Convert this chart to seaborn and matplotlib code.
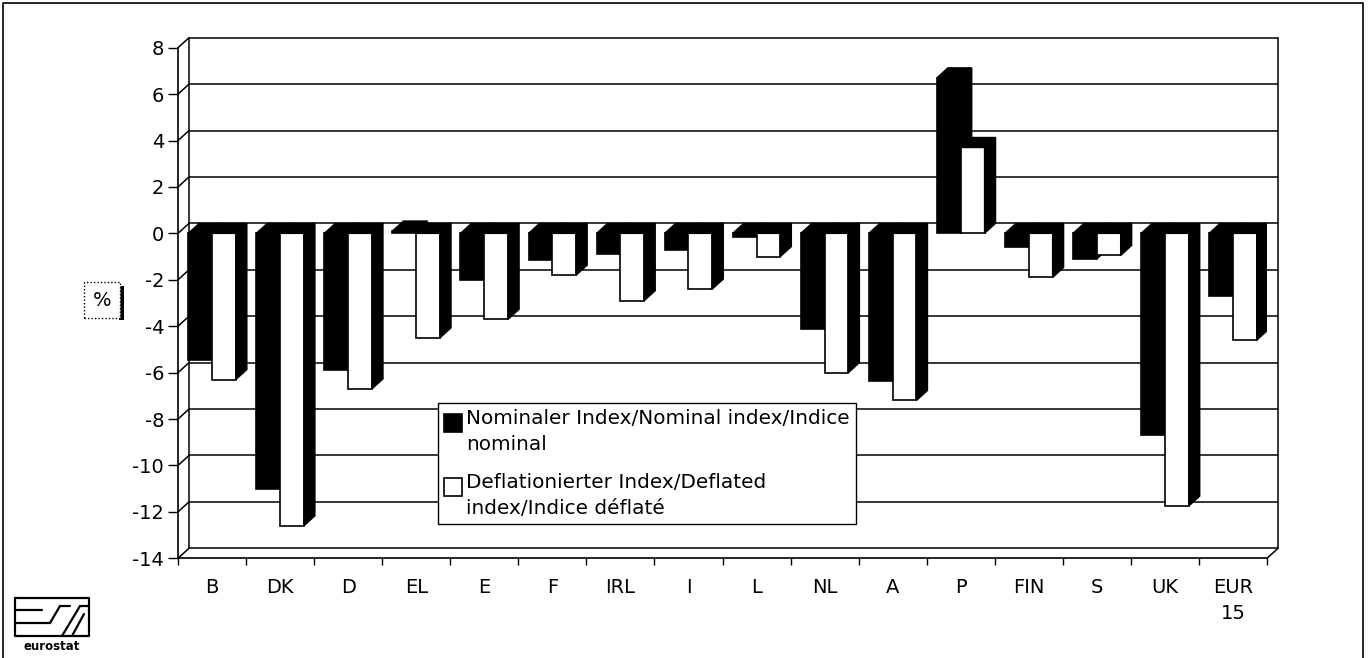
import matplotlib
matplotlib.use("Agg")
import matplotlib.pyplot as plt
import seaborn as sns
import pandas as pd
from matplotlib.patches import Rectangle, Polygon
from matplotlib.lines import Line2D
from matplotlib.legend_handler import HandlerPatch

# ---------------- data ----------------
categories = ["B", "DK", "D", "EL", "E", "F", "IRL", "I", "L", "NL", "A", "P",
              "FIN", "S", "UK", "EUR\n15"]
nominal = [-5.45, -11.0, -5.9, 0.1, -2.0, -1.15, -0.9, -0.7, -0.15, -4.1,
           -6.35, 6.7, -0.6, -1.1, -8.7, -2.7]
deflated = [-6.3, -12.6, -6.7, -4.5, -3.7, -1.8, -2.9, -2.4, -1.0, -6.0,
            -7.2, 3.7, -1.9, -0.95, -11.75, -4.6]
series_labels = ["Nominaler Index/Nominal index/Indice\nnominal",
                 "Deflationierter Index/Deflated\nindex/Indice déflaté"]
series_colors = ["black", "white"]
y_ticks = [8, 6, 4, 2, 0, -2, -4, -6, -8, -10, -12, -14]
y_label = "%"

# ---------------- figure ----------------
sns.set_theme(style="white")
plt.rcParams["font.family"] = ["DejaVu Sans"]

W, H = 1371, 658
fig = plt.figure(figsize=(W / 100, H / 100), dpi=100)
ax_left, ax_bottom_px, ax_w, ax_h = 178, 558.3, 1089, 510.6
ax = fig.add_axes([ax_left / W, 1 - ax_bottom_px / H, ax_w / W, ax_h / H])

df = pd.DataFrame({
    "category": categories * 2,
    "value": nominal + deflated,
    "series": [series_labels[0]] * len(categories) + [series_labels[1]] * len(categories),
})

sns.barplot(data=df, x="category", y="value", hue="series", order=categories,
            hue_order=series_labels, palette=series_colors, saturation=1,
            width=0.7, edgecolor="black", linewidth=1.2, legend=False,
            errorbar=None, ax=ax)

n = len(categories)
ymin, ymax = min(y_ticks), max(y_ticks)
ax.set_xlim(-0.5, n - 0.5)
ax.set_ylim(ymin, ymax)
ax.grid(False)
ax.set_xlabel("")
ax.set_ylabel("")

# 3D depth offset (pixels -> data units)
DX = 11 / (ax_w / n)
DY = 10 / (ax_h / (ymax - ymin))

# back wall / floor / side wall lines
x0, x1 = -0.5, n - 0.5
lk = dict(color="black", lw=1.1, clip_on=False, zorder=0.5)
for t in y_ticks:
    ax.plot([x0 + DX, x1 + DX], [t + DY, t + DY], **lk)
    ax.plot([x0, x0 + DX], [t, t + DY], **lk)
ax.plot([x0 + DX, x0 + DX], [ymin + DY, ymax + DY], **lk)
ax.plot([x1 + DX, x1 + DX], [ymin + DY, ymax + DY], **lk)
ax.plot([x1, x1 + DX], [ymin, ymin + DY], **lk)

# 3D faces for bars
for ci, cont in enumerate(ax.containers):
    zbase = 2 + ci
    for rect in cont.patches:
        rect.set_zorder(zbase)
        xa, w = rect.get_x(), rect.get_width()
        y, h = rect.get_y(), rect.get_height()
        lo, hi = min(y, y + h), max(y, y + h)
        side = Polygon([(xa + w, lo), (xa + w, hi), (xa + w + DX, hi + DY),
                        (xa + w + DX, lo + DY)], closed=True, fc="black",
                       ec="black", lw=1, zorder=zbase + 0.1)
        top = Polygon([(xa, hi), (xa + w, hi), (xa + w + DX, hi + DY),
                       (xa + DX, hi + DY)], closed=True, fc="black",
                      ec="black", lw=1, zorder=zbase + 0.1)
        ax.add_patch(side)
        ax.add_patch(top)

# spines and ticks
for s in ["top", "right"]:
    ax.spines[s].set_visible(False)
for s in ["left", "bottom"]:
    ax.spines[s].set_color("black")
    ax.spines[s].set_linewidth(1.2)

ax.set_yticks(y_ticks)
ax.set_yticklabels([str(t) for t in y_ticks])
ax.tick_params(axis="y", length=7, width=1, pad=3, labelsize=14,
               direction="out", color="black", labelcolor="black", left=True)

ax.set_xticks(range(n))
ax.set_xticklabels(categories)
ax.tick_params(axis="x", which="major", length=0, pad=14, labelsize=14,
               labelcolor="black")
ax.set_xticks([i - 0.5 for i in range(n + 1)], minor=True)
ax.tick_params(axis="x", which="minor", length=5, width=1, direction="out",
               color="black", bottom=True)
for lab in ax.get_xticklabels():
    lab.set_linespacing(1.5)

# legend
def square_patch(legend, orig_handle, xdescent, ydescent, width, height, fontsize):
    s = width
    return Rectangle((-xdescent, -ydescent + 0.4 * fontsize), s, s)

handles = [Rectangle((0, 0), 1, 1, fc=c, ec="black", lw=1.2) for c in series_colors]
leg = ax.legend(handles, series_labels, loc="upper left",
                bbox_to_anchor=(438 / W, 1 - 403 / H), bbox_transform=fig.transFigure,
                borderaxespad=0, frameon=True, fancybox=False, framealpha=1,
                edgecolor="black", fontsize=14.4, handlelength=0.9, handleheight=0.9,
                handletextpad=0.2, borderpad=0.3, labelspacing=0.95,
                handler_map={Rectangle: HandlerPatch(patch_func=square_patch)})
leg.get_frame().set_linewidth(1.0)
leg.set_zorder(10)
for t in leg.get_texts():
    t.set_linespacing(1.45)
    t.set_color("black")

# "%" unit label with shadow
fig.text(102 / W, 1 - 300 / H, y_label, ha="center", va="center", fontsize=14,
         color="black", zorder=5,
         bbox=dict(boxstyle="square,pad=0.45", fc="white", ec="black", lw=1,
                   ls=(0, (1, 1.5))))
fig.add_artist(Rectangle((119 / W, 1 - 320 / H), 5 / W, 34 / H,
                         transform=fig.transFigure, fc="black", ec="none", zorder=4))

# outer frame
def fl(xs, ys, lw=1.2):
    fig.add_artist(Line2D([x / W for x in xs], [1 - y / H for y in ys],
                          transform=fig.transFigure, color="black", lw=lw))

fl([3, 3, 1363, 1363], [658, 3, 3, 658])

# eurostat logo
fl([15, 89, 89, 15, 15], [598, 598, 636, 636, 598], lw=1.6)
fl([15, 42], [610, 610], lw=1.6)
fl([15, 50], [623, 623], lw=1.6)
fl([50, 60], [623, 606], lw=1.6)
fl([60, 70], [606, 606], lw=1.6)
fl([62, 80], [636, 606], lw=1.6)
fl([80, 89], [606, 606], lw=1.6)
fl([72, 84], [636, 614], lw=1.6)
fig.text(52 / W, 1 - 646 / H, "eurostat", ha="center", va="center",
         fontsize=8.5, fontweight="bold", color="black")

fig.savefig("out.png", dpi=100, facecolor="white")
